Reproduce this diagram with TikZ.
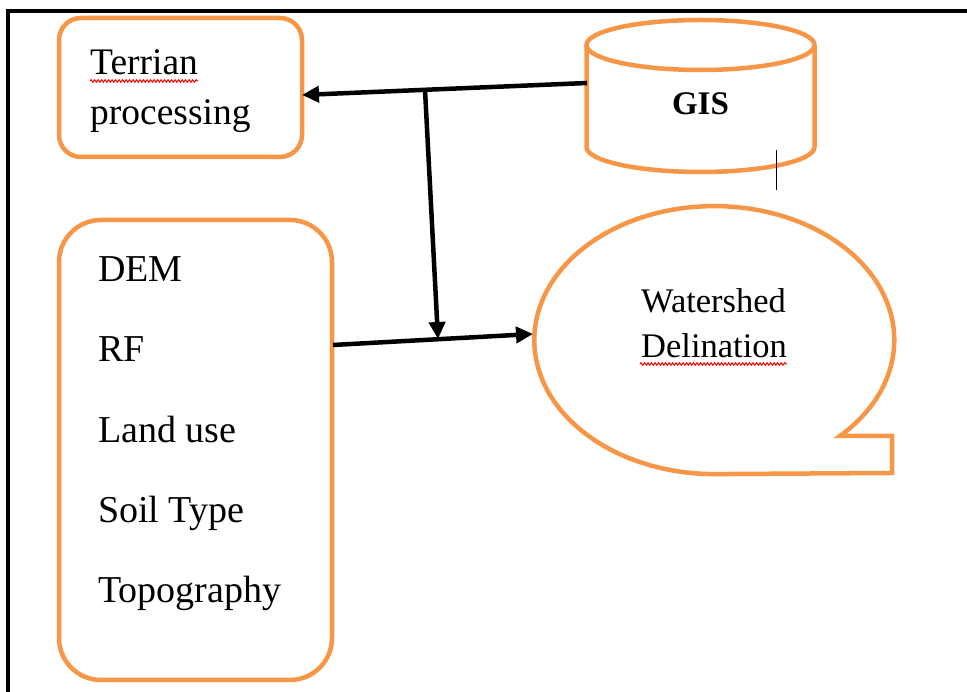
\documentclass[tikz,border=0pt]{standalone}
\usepackage{fontspec}
\setmainfont{Liberation Serif}
\usetikzlibrary{arrows.meta,decorations.pathmorphing}
\definecolor{accent}{RGB}{247,150,70}
\tikzset{
  obox/.style={draw=accent,line width=4.5pt,rounded corners=#1},
  lbl/.style={anchor=base west,inner sep=0pt,font=\fontsize{38}{42}\selectfont},
  conn/.style={line width=4.5pt,-{Triangle[length=17pt,width=16pt]}},
  spell/.style={red,line width=1pt,decorate,decoration={snake,amplitude=1.3pt,segment length=3.5pt}}
}
\begin{document}
\begin{tikzpicture}[x=1pt,y=1pt]
\useasboundingbox (0,0) rectangle (967,692);
% frame (left and top)
\draw[line width=4.5pt] (8,0) -- (8,681) -- (967,681);
% Terrian box
\draw[obox=22pt] (59,535) rectangle (302,674);
\node[lbl,font=\fontsize{37.5}{42}\selectfont] (t1) at (90,617) {Terrian};
\node[lbl,font=\fontsize{37.5}{42}\selectfont] (t2) at (90,567) {processing};
\draw[spell] (90,611) -- (198,611);
% list box
\draw[obox=42pt] (59,12) rectangle (332,472);
\node[lbl] (l1) at (98,410) {DEM};
\node[lbl] (l2) at (98,330) {RF};
\node[lbl] (l3) at (98,249) {Land use};
\node[lbl] (l4) at (98,169) {Soil Type};
\node[lbl] (l5) at (98,89) {Topography};
% GIS cylinder
\draw[draw=accent,line width=4.5pt,fill=white]
  (586.5,647) -- (586.5,545) arc[start angle=180,end angle=360,x radius=114,y radius=25] -- (814.5,647);
\draw[draw=accent,line width=4.5pt] (700.5,647) ellipse[x radius=114,y radius=25];
\node[anchor=base,inner sep=0pt,font=\fontsize{33}{38}\selectfont\bfseries] (gis) at (700.5,577) {GIS};
\draw[line width=1pt] (776,542) -- (776,502);
% Watershed callout
\draw[draw=accent,line width=4.5pt,line join=miter]
  (840,256) arc[start angle=-45.7,end angle=270,x radius=180,y radius=134]
  -- (892,219) -- (892,256) -- cycle;
\node[lbl,font=\fontsize{34.5}{38}\selectfont] (w1) at (641,379) {Watershed};
\node[lbl,font=\fontsize{34.5}{38}\selectfont] (w2) at (641,334) {Delination};
\draw[spell] (640,328) -- (787,328);
% connectors
\coordinate (gisL) at (587,609);
\coordinate (terR) at (302,597);
\coordinate (j1) at (425,602.2);
\coordinate (lstR) at (333,347);
\coordinate (watL) at (533,358);
\coordinate (j2) at (438,353);
\draw[conn] (gisL) -- (terR);
\draw[conn] (j1) -- (j2);
\draw[conn] (lstR) -- (watL);
\end{tikzpicture}
\end{document}
